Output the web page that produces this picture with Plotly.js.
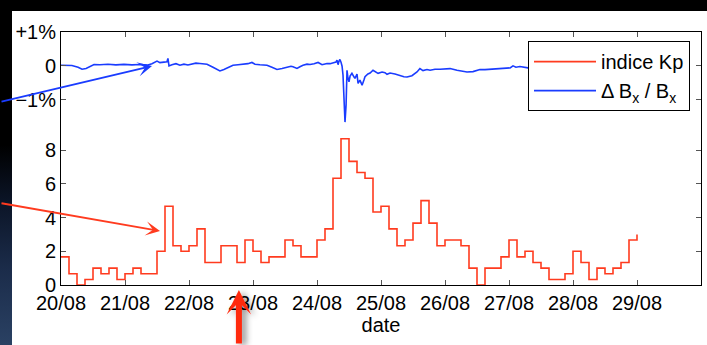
<!DOCTYPE html>
<html>
<head>
<meta charset="utf-8">
<script src="https://cdn.plot.ly/plotly-3.0.1.min.js"></script>
<style>
  html, body { margin: 0; padding: 0; width: 707px; height: 345px; overflow: hidden; }
  body {
    position: relative;
    background: linear-gradient(to bottom, #000 0%, #000 42%, #0b1426 58%, #1b2c4a 78%, #2a4163 100%);
  }
  #sheet { position: absolute; left: 12px; top: 11px; width: 695px; height: 334px; background: #fff; }
  #chart { position: absolute; left: 0; top: 0; width: 707px; height: 345px; }
</style>
</head>
<body>
<div id="sheet"></div>
<div id="chart"></div>
<script>
// Planetary Kp index, one value per 3-hour slot starting 20/08 00:00 (last entry closes the series at 29/08 00:00)
const kpStart = Date.UTC(2005, 7, 20);
const kpValues = [
  1.67, 0.67, 0, 0.33, 1, 0.67, 1, 0.33,
  0.67, 1, 0.67, 0.67, 2, 4.67, 2.33, 2,
  2.33, 3.33, 1.33, 1.33, 2.33, 2.33, 1.33, 2.67,
  2, 1.33, 1.67, 1.67, 2.67, 2.33, 1.67, 1.67,
  2.67, 3.33, 6.33, 8.67, 7.33, 6.67, 6.33, 4.33,
  4.67, 3.33, 2.33, 2.67, 3.67, 5, 3.67, 2.33,
  2.67, 2.67, 2.33, 1, 0, 1, 1, 1.67,
  2.67, 1.67, 2, 1.33, 1, 0.33, 0.33, 0.67,
  2, 1.33, 0.33, 1, 0.67, 1, 1.33, 2.67,
  3
];

// Relative variation of Bx (percent), sampled at hours after 20/08 00:00
const bxHours = [
  0, 1.9, 4.1, 6.4, 7.9, 9.4, 10.9, 12.4, 14.6, 17.6, 20.6, 23.6, 26.6, 29.6, 32.6, 34.1,
  36, 37.1, 38.6, 39.75, 40.1, 40.5, 41.6, 43.1, 44.6, 46.1, 47.6, 49.1, 50.6, 52.1, 54.75, 57,
  59.6, 61.1, 62.6, 64.5, 66.4, 68.25, 70.1, 71.6, 72.75, 74.6, 77.25, 79.1, 81, 82.9, 84.75, 86.25,
  87, 88.5, 89.6, 90.75, 92.25, 93.4, 94.9, 96.4, 97.9, 99.75, 100.9, 102, 103.1, 103.5, 103.9, 104.25,
  104.6, 105, 105.4, 105.75, 106.1, 106.5, 106.9, 107.25, 107.6, 108, 108.4, 109.1, 109.9, 110.25, 111, 111.4,
  112.1, 112.9, 113.6, 114, 115.1, 115.9, 117, 118.1, 118.9, 120.4, 121.5, 122.25, 123.4, 125.25, 127.1, 128.6,
  129.75, 131.6, 133.5, 134.6, 135.75, 137.25, 138.4, 140.25, 142.1, 144, 145.9, 148.5, 150.4, 152.25, 154.5, 157.1,
  159, 160.9, 162.75, 164.6, 166.5, 168.4, 169.5, 170.6, 172.1, 173.6, 175.1, 177.8
];
const bxPercent = [
  0.02, 0.02, 0.01, -0.04, -0.10, -0.08, -0.01, 0.04, 0.035, 0.05, 0.03, 0.045, 0.03, 0.04, 0.025, 0.065,
  0.14, 0.095, 0.11, 0.12, 0.22, 0.0, 0.035, 0.065, 0.02, 0.05, 0.025, 0.06, 0.08, 0.07, 0.05, -0.04,
  -0.15, -0.11, -0.05, 0.02, 0.035, 0.05, 0.065, 0.10, 0.05, 0.035, 0.02, -0.04, -0.105, -0.08, -0.045, -0.01,
  -0.025, -0.075, -0.025, 0.02, 0.05, 0.04, 0.065, 0.10, 0.035, 0.07, 0.065, 0.09, 0.11, 0.17, 0.035, 0.14,
  0.19, 0.11, -0.01, -0.27, -0.86, -1.66, -1.16, -0.13, -0.36, -0.47, -0.30, -0.22, -0.33, -0.37, -0.24, -0.52,
  -0.42, -0.57, -0.42, -0.32, -0.24, -0.21, -0.13, -0.19, -0.22, -0.18, -0.20, -0.25, -0.21, -0.24, -0.29, -0.32,
  -0.33, -0.29, -0.18, -0.08, -0.14, -0.11, -0.13, -0.10, -0.10, -0.08, -0.08, -0.13, -0.16, -0.18, -0.17, -0.11,
  -0.11, -0.10, -0.08, -0.08, -0.07, -0.06, 0.0, -0.04, -0.02, -0.05, -0.06, -0.05
];

// Axis ticks
const dayTicks = ['20/08', '21/08', '22/08', '23/08', '24/08', '25/08', '26/08', '27/08', '28/08', '29/08'];
const kpTicks = [0, 2, 4, 6, 8];
const bxTickVals = [-1, 0, 1];
const bxTickText = ['\u22121%', '0', '+1%'];

function stamp(ms) {
  const d = new Date(ms);
  const p = n => String(n).padStart(2, '0');
  return d.getUTCFullYear() + '-' + p(d.getUTCMonth() + 1) + '-' + p(d.getUTCDate()) +
         ' ' + p(d.getUTCHours()) + ':' + p(d.getUTCMinutes());
}
const HOUR = 3600 * 1000;
const kpTimes = kpValues.map((_, i) => stamp(kpStart + i * 3 * HOUR));
const bxTimes = bxHours.map(h => stamp(kpStart + h * HOUR));
const dayTickVals = dayTicks.map((_, i) => stamp(kpStart + i * 24 * HOUR));

const RED = '#ff3b1f';
const BLUE = '#1a3cff';
const FONT = 'Liberation Sans, Arial, Helvetica, sans-serif';

const traces = [
  {
    x: kpTimes, y: kpValues, yaxis: 'y',
    type: 'scatter', mode: 'lines', line: { shape: 'hv', color: RED, width: 1.6 },
    name: 'indice Kp'
  },
  {
    x: bxTimes, y: bxPercent, yaxis: 'y2',
    type: 'scatter', mode: 'lines', line: { color: BLUE, width: 1.6 },
    name: '\u0394 B<sub>x</sub> / B<sub>x</sub>'
  }
];

const axisCommon = {
  showline: true, linecolor: '#000', linewidth: 1, mirror: 'ticks',
  ticks: 'inside', ticklen: 5, tickcolor: '#555', tickwidth: 1,
  showgrid: false, zeroline: false,
  tickfont: { family: FONT, size: 20, color: '#000' }
};

const layout = {
  width: 707, height: 345,
  margin: { l: 61, r: 6, t: 32, b: 60, pad: 0 },
  paper_bgcolor: 'rgba(0,0,0,0)',
  plot_bgcolor: '#fff',
  font: { family: FONT, size: 20, color: '#000' },
  showlegend: true,
  legend: {
    x: 0.7297, y: 0.964, xanchor: 'left', yanchor: 'top',
    bgcolor: '#fff', bordercolor: '#000', borderwidth: 1,
    font: { family: FONT, size: 20, color: '#000' },
    itemwidth: 62, tracegroupgap: 0
  },
  xaxis: Object.assign({}, axisCommon, {
    type: 'date',
    range: [stamp(kpStart), stamp(kpStart + 10 * 24 * HOUR)],
    tickmode: 'array', tickvals: dayTickVals, ticktext: dayTicks,
    title: { text: 'date', font: { family: FONT, size: 20, color: '#000' }, standoff: 4 }
  }),
  yaxis: Object.assign({}, axisCommon, {
    range: [0, 15], tickmode: 'array', tickvals: kpTicks
  }),
  yaxis2: Object.assign({}, axisCommon, {
    overlaying: 'y', side: 'left',
    range: [-6.47, 1], tickmode: 'array', tickvals: bxTickVals, ticktext: bxTickText
  }),
  annotations: [
    { xref: 'paper', yref: 'paper', x: 0.1422, y: 0.8656, ax: -157, ay: 36, text: '',
      showarrow: true, arrowhead: 3, arrowsize: 1.2, arrowwidth: 2, arrowcolor: BLUE },
    { xref: 'paper', yref: 'paper', x: 0.1547, y: 0.2134, ax: -165, ay: -28, text: '',
      showarrow: true, arrowhead: 3, arrowsize: 1.2, arrowwidth: 2, arrowcolor: RED },
    { xref: 'paper', yref: 'paper', x: 0.278, y: -0.0198, ax: 0, ay: 62, text: '',
      showarrow: true, arrowhead: 3, arrowsize: 0.68, arrowwidth: 6, arrowcolor: '#ff2a10' }
  ]
};

Plotly.newPlot('chart', traces, layout, { displayModeBar: false, staticPlot: true }).then(gd => {
  // soft drop shadow under the large pointer
  const svg = gd.querySelector('svg.main-svg');
  const NS = 'http://www.w3.org/2000/svg';
  const defs = document.createElementNS(NS, 'defs');
  defs.innerHTML = '<filter id="pointerShadow" x="-50%" y="-50%" width="200%" height="200%">' +
    '<feDropShadow dx="4" dy="2" stdDeviation="3" flood-color="#000" flood-opacity="0.45"/></filter>';
  svg.insertBefore(defs, svg.firstChild);
  const arrows = gd.querySelectorAll('.annotation-arrow-g');
  if (arrows[2]) arrows[2].setAttribute('filter', 'url(#pointerShadow)');
});
</script>
</body>
</html>
